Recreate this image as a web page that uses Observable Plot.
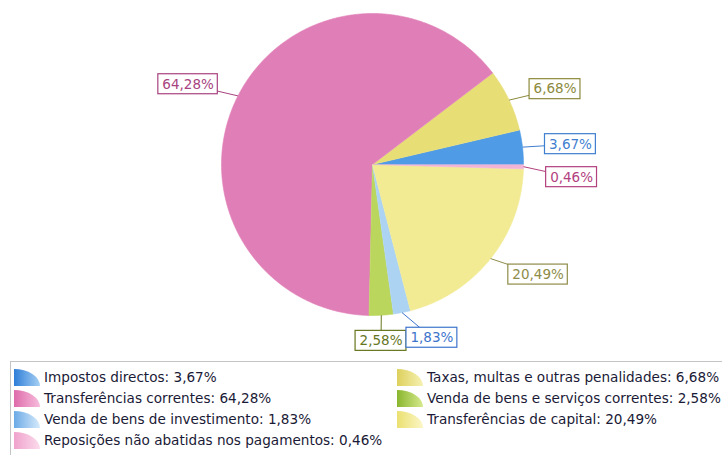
<!DOCTYPE html>
<html><head><meta charset="utf-8">
<script src="https://cdn.jsdelivr.net/npm/d3@7"></script>
<script src="https://cdn.jsdelivr.net/npm/@observablehq/plot@0.6"></script>
<style>
body{margin:0;background:#fff;font-family:"DejaVu Sans",sans-serif;}
#wrap{position:relative;width:722px;height:455px;overflow:hidden;background:#fff;}
#legend{position:absolute;left:10px;top:361px;width:720px;height:100px;border-top:1px solid #c4c4c4;border-left:1px solid #c4c4c4;}
.item{position:absolute;height:20px;display:flex;align-items:center;white-space:nowrap;font-size:13.6px;color:#1a1a36;}
.icon{width:26px;height:17px;border-top-right-radius:100% 100%;margin-right:4px;flex:none;}
</style></head><body><div id="wrap"><div id="chart"></div><div id="legend"></div></div>
<script>
// ---- data ----
const categories = [
  "Impostos directos",
  "Taxas, multas e outras penalidades",
  "Transferências correntes",
  "Venda de bens e serviços correntes",
  "Venda de bens de investimento",
  "Transferências de capital",
  "Reposições não abatidas nos pagamentos"
];
const values = [3.67, 6.68, 64.28, 2.58, 1.83, 20.49, 0.46];

// ---- styles ----
const sliceColors = ["#4f9be6", "#e8de76", "#e07fb7", "#bad65c", "#acd3f2", "#f2eb94", "#f2b4d6"];
const labelColors = ["#3f7fd0", "#8c8a3c", "#a8437f", "#66761e", "#3d74cc", "#8e8c48", "#b2417e"];
const iconDark   = ["#2f7ed8", "#ddd05c", "#de6cab", "#8ab62e", "#6caae6", "#ebe070", "#f0a2cc"];
const iconLight  = ["#a6d0f4", "#f6f1b4", "#f7bcdc", "#d6ea8e", "#d6eafb", "#fbf6c6", "#fbdcec"];

const W = 722, H = 361, CX = 372, CY = 164, R = 151;
const fmt = v => v.toFixed(2).replace(".", ",") + "%";
const total = d3.sum(values);

let acc = 0;
const slices = categories.map((c, i) => {
  const a0 = acc / total * 2 * Math.PI; acc += values[i];
  const a1 = acc / total * 2 * Math.PI;
  return {c, i, v: values[i], a0, a1, mid: (a0 + a1) / 2};
});

const piePts = slices.flatMap(s => {
  const n = Math.max(2, Math.ceil((s.a1 - s.a0) / (Math.PI / 360)));
  const pts = [{c: s.c, x: 0, y: 0}];
  for (let k = 0; k <= n; k++) {
    const a = s.a0 + (s.a1 - s.a0) * k / n;
    pts.push({c: s.c, x: Math.cos(a), y: Math.sin(a)});
  }
  return pts;
});

// ---- label layout (screen px relative to centre) ----
const ctx = document.createElement("canvas").getContext("2d");
const LFONT = 13.5;
ctx.font = `${LFONT}px "DejaVu Sans"`;
const boxes = slices.map(s => {
  const text = fmt(s.v);
  const w = ctx.measureText(text).width + 8, h = 20;
  const ax = 1.15 * R * Math.cos(s.mid), ay = -1.17 * R * Math.sin(s.mid);
  const left = Math.cos(s.mid) >= 0 ? ax : ax - w;
  return {s, text, w, h, left, top: ay - h / 2};
});
const cw = b => (((90 - b.s.mid * 180 / Math.PI) % 360) + 360) % 360;
const order = boxes.slice().sort((a, b) => cw(a) - cw(b));
const GY = 13;
const placed = [];
for (const b of order) {
  for (let it = 0; it < 20; it++) {
    let moved = false;
    for (const o of placed) {
      const ovx = b.left < o.left + o.w && o.left < b.left + b.w;
      const ovy = b.top < o.top + o.h + GY && o.top < b.top + b.h + GY;
      if (ovx && ovy) {
        const c = Math.cos(b.s.mid), sn = Math.sin(b.s.mid);
        if (Math.abs(c) > Math.abs(sn)) {
          if (c > 0) b.top = o.top + o.h + GY; else b.top = o.top - GY - b.h;
        } else {
          if (sn < 0) b.left = o.left - b.w; else b.left = o.left + o.w;
        }
        moved = true;
      }
    }
    if (!moved) break;
  }
  placed.push(b);
}
const labels = boxes.map(b => ({
  text: b.text, col: labelColors[b.s.i],
  ex: Math.cos(b.s.mid), ey: Math.sin(b.s.mid),
  x1: b.left / R, x2: (b.left + b.w) / R,
  y1: -b.top / R, y2: -(b.top + b.h) / R,
  lx: (b.left + b.w / 2) / R, ly: -(b.top + b.h / 2) / R
}));

const marks = [
  Plot.line(piePts, {x: "x", y: "y", z: "c", fill: "c", stroke: "c", strokeWidth: 0.6}),
  ...labels.map(l => Plot.link([l], {x1: "ex", y1: "ey", x2: "lx", y2: "ly", stroke: l.col, strokeWidth: 1})),
  ...labels.map(l => Plot.rect([l], {x1: "x1", x2: "x2", y1: "y1", y2: "y2", fill: "white", stroke: l.col, strokeWidth: 1.2})),
  ...labels.map(l => Plot.text([l], {x: "lx", y: "ly", text: "text", fill: l.col, fontSize: LFONT, fontFamily: "DejaVu Sans"}))
];

const chart = Plot.plot({
  width: W, height: H, margin: 0,
  style: {background: "white", fontFamily: "DejaVu Sans"},
  x: {domain: [-1, 1], range: [CX - R, CX + R], axis: null},
  y: {domain: [-1, 1], range: [CY + R, CY - R], axis: null},
  color: {domain: categories, range: sliceColors},
  marks
});
document.getElementById("chart").appendChild(chart);

// ---- legend (row-major, two columns) ----
const legend = document.getElementById("legend");
categories.forEach((c, i) => {
  const row = Math.floor(i / 2), col = i % 2;
  const it = document.createElement("div");
  it.className = "item";
  it.style.left = (col === 0 ? 3 : 386) + "px";
  it.style.top = (5 + row * 21) + "px";
  const ic = document.createElement("span");
  ic.className = "icon";
  ic.style.background = `linear-gradient(to right, ${iconDark[i]}, ${iconLight[i]})`;
  const tx = document.createElement("span");
  tx.textContent = `${c}: ${fmt(values[i])}`;
  it.appendChild(ic); it.appendChild(tx);
  legend.appendChild(it);
});
</script></body></html>
